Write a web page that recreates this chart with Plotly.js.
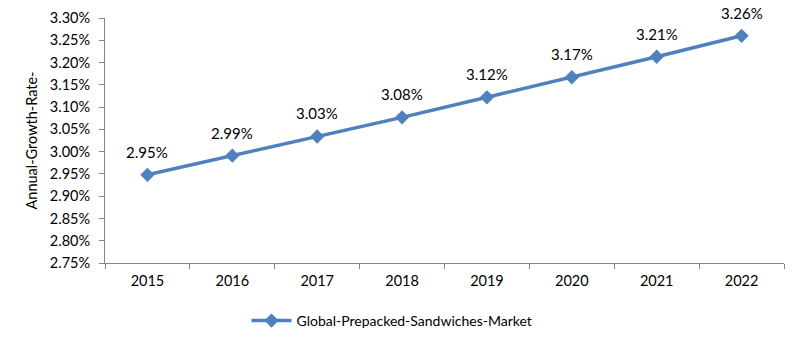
<!DOCTYPE html>
<html>
<head>
<meta charset="utf-8">
<script src="https://cdn.plot.ly/plotly-3.0.1.min.js"></script>
<style>html,body{margin:0;padding:0;background:#fff;}#chart{width:800px;height:340px;}</style>
</head>
<body>
<div id="chart"></div>
<script>
const years = ["2015","2016","2017","2018","2019","2020","2021","2022"];
const growthRate = [2.948, 2.991, 3.034, 3.077, 3.122, 3.167, 3.213, 3.260];
const dataLabels = ["2.95%","2.99%","3.03%","3.08%","3.12%","3.17%","3.21%","3.26%"];
const yTickVals = [2.75,2.80,2.85,2.90,2.95,3.00,3.05,3.10,3.15,3.20,3.25,3.30];
const yTickText = yTickVals.map(v => v.toFixed(2) + "%");
const seriesName = "Global-Prepacked-Sandwiches-Market";

const FONT = "Lato, 'Open Sans', sans-serif";
const trace = {
  x: years, y: growthRate, type: "scatter", mode: "lines+markers",
  name: seriesName,
  line: {color: "#4f81bd", width: 3.5},
  marker: {symbol: "diamond", size: 11, color: "#4f81bd"},
  cliponaxis: false
};
const annotations = years.map((yr, i) => ({
  x: i, y: growthRate[i], xref: "x", yref: "y", text: dataLabels[i],
  showarrow: false, yshift: 23, font: {family: FONT, size: 15, color: "#000"}
}));
const layout = {
  width: 800, height: 340,
  margin: {l: 105, r: 16, t: 18, b: 77, autoexpand: false},
  paper_bgcolor: "#fff", plot_bgcolor: "#fff",
  font: {family: FONT, size: 14, color: "#000"},
  showlegend: true,
  legend: {orientation: "h", xref: "container", yref: "container", x: 0.49, xanchor: "center",
           y: 0.056, yanchor: "middle", font: {size: 14}, itemwidth: 40},
  annotations: annotations,
  xaxis: {type: "category", categoryorder: "array", categoryarray: years, range: [-0.5, years.length - 0.5],
          showgrid: false, showline: true, linecolor: "#868686", linewidth: 1,
          ticks: "outside", tickson: "boundaries", ticklen: 5, tickcolor: "#868686",
          tickfont: {size: 14.5}, ticklabelstandoff: 5, zeroline: false},
  yaxis: {range: [2.75, 3.30], showgrid: false, showline: true, linecolor: "#868686", linewidth: 1,
          ticks: "outside", ticklen: 5, tickcolor: "#868686", tickvals: yTickVals, ticktext: yTickText,
          tickfont: {size: 14.5}, ticklabelstandoff: 6, zeroline: false,
          title: {text: "Annual-Growth-Rate-", font: {size: 14.5}, standoff: 8}}
};
Plotly.newPlot("chart", [trace], layout, {displayModeBar: false, staticPlot: true});
</script>
</body>
</html>
